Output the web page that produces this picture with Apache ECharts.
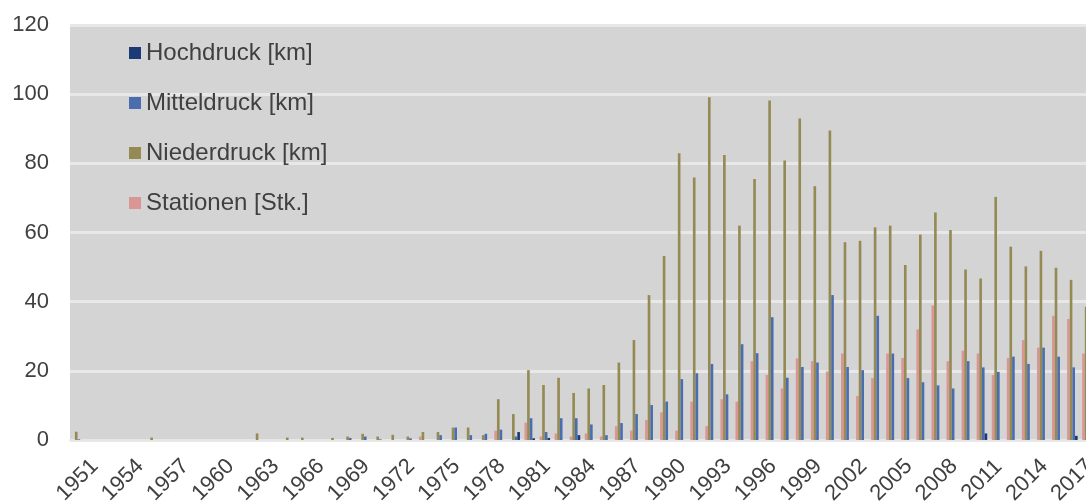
<!DOCTYPE html>
<html>
<head>
<meta charset="utf-8">
<script src="https://cdn.jsdelivr.net/npm/echarts@6/dist/echarts.min.js"></script>
<style>
  html, body { margin: 0; padding: 0; background: #ffffff; }
  #chart { width: 1086px; height: 504px; }
</style>
</head>
<body>
<div id="chart"></div>
<script>
// Years 1951–2018
const years = [];
for (let y = 1951; y <= 2018; y++) years.push(String(y));

// Hochdruck [km]
const hochdruck = [
  0, 0, 0, 0, 0, 0, 0, 0, 0, 0,
  0, 0, 0, 0, 0, 0, 0, 0, 0, 0,
  0, 0, 0, 0, 0, 0, 0, 0, 0, 2.3,
  0.5, 0.6, 0, 1.4, 0, 0, 0, 0, 0, 0,
  0, 0, 0, 0, 0, 0, 0, 0, 0, 0,
  0, 0, 0, 0, 0, 0, 0, 0, 0, 0,
  1.9, 0, 0, 0, 0, 0, 1.2, 0
];

// Mitteldruck [km]
const mitteldruck = [
  0.2, 0, 0, 0, 0, 0, 0, 0, 0, 0,
  0, 0, 0, 0, 0, 0, 0, 0, 0.6, 1.0,
  0.2, 0, 0.5, 0, 1.4, 3.6, 1.4, 1.8, 3.0, 1.0,
  6.3, 2.3, 6.3, 6.3, 4.5, 1.4, 4.9, 7.5, 10.1, 11.1,
  17.6, 19.3, 22.0, 13.2, 27.7, 25.1, 35.5, 18.0, 21.1, 22.4,
  41.9, 21.1, 20.2, 35.9, 25.0, 17.9, 16.7, 15.8, 14.9, 22.8,
  21.0, 19.7, 24.1, 22.0, 26.7, 24.1, 21.0, 20.0
];

// Niederdruck [km]
const niederdruck = [
  2.4, 0, 0, 0, 0, 0.7, 0, 0, 0, 0,
  0, 0, 1.9, 0, 0.7, 0.7, 0, 0.6, 1.0, 1.8,
  1.0, 1.5, 1.0, 2.3, 2.3, 3.6, 3.6, 1.4, 11.8, 7.5,
  20.2, 15.9, 18.0, 13.6, 14.9, 15.9, 22.4, 28.9, 41.9, 53.2,
  82.9, 75.9, 99.1, 82.4, 62.0, 75.5, 98.2, 80.8, 93.0, 73.4,
  89.5, 57.2, 57.6, 61.5, 62.0, 50.6, 59.4, 65.8, 60.7, 49.3,
  46.7, 70.3, 55.9, 50.2, 54.7, 49.8, 46.3, 38.5
];

// Stationen [Stk.]
const stationen = [
  0, 0, 0, 0, 0, 0, 0, 0, 0, 0,
  0, 0, 0, 0, 0, 0, 0, 0, 0, 0,
  0, 0, 0, 1.0, 0, 0, 0, 0, 2.7, 0,
  5.0, 1.0, 1.9, 1.0, 1.9, 1.0, 4.0, 2.7, 5.8, 8.0,
  2.7, 11.1, 4.0, 11.8, 11.1, 22.8, 18.8, 14.9, 23.6, 22.8,
  19.8, 25.0, 12.7, 17.9, 25.0, 23.7, 32.0, 38.9, 22.8, 25.8,
  25.0, 18.8, 23.7, 28.9, 26.7, 35.9, 35.0, 25.0
];

const legendNames = ['Hochdruck [km]', 'Mitteldruck [km]', 'Niederdruck [km]', 'Stationen [Stk.]'];
const colors = {
  hoch: '#1c3a75',
  mittel: '#4a6db0',
  nieder: '#948a54',
  stationen: '#da9694'
};

const font = '"Liberation Sans", Arial, sans-serif';

const chart = echarts.init(document.getElementById('chart'), null, { renderer: 'canvas' });

function barSeries(name, data, color) {
  return {
    name: name,
    type: 'bar',
    data: data,
    itemStyle: { color: color },
    barGap: '0%',
    barCategoryGap: '30%',
    animation: false
  };
}

chart.setOption({
  animation: false,
  grid: {
    left: 70,
    width: 1025,
    top: 25,
    bottom: 64,
    containLabel: false,
    outerBoundsMode: 'none',
    show: true,
    backgroundColor: '#d4d4d4',
    borderWidth: 0
  },
  legend: {
    data: legendNames,
    orient: 'vertical',
    left: 129,
    top: 41,
    padding: 0,
    icon: 'rect',
    itemWidth: 12,
    itemHeight: 12,
    itemGap: 26,
    textStyle: { fontFamily: font, fontSize: 24, color: '#404040', lineHeight: 24 }
  },
  xAxis: {
    type: 'category',
    data: years,
    axisLine: { show: true, lineStyle: { color: '#e6e6e6', width: 2 } },
    axisTick: { show: false },
    axisLabel: {
      interval: 2,
      rotate: 45,
      align: 'center',
      verticalAlign: 'middle',
      margin: 40,
      fontFamily: font,
      fontSize: 22,
      color: '#404040'
    }
  },
  yAxis: {
    type: 'value',
    min: 0,
    max: 120,
    interval: 20,
    axisLine: { show: false },
    axisTick: { show: false },
    axisLabel: { margin: 21, fontFamily: font, fontSize: 22, color: '#404040' },
    splitLine: { show: true, lineStyle: { color: '#e8e8e8', width: 3 } }
  },
  series: [
    barSeries('Stationen [Stk.]', stationen, colors.stationen),
    barSeries('Niederdruck [km]', niederdruck, colors.nieder),
    barSeries('Mitteldruck [km]', mitteldruck, colors.mittel),
    barSeries('Hochdruck [km]', hochdruck, colors.hoch)
  ]
});
</script>
</body>
</html>
